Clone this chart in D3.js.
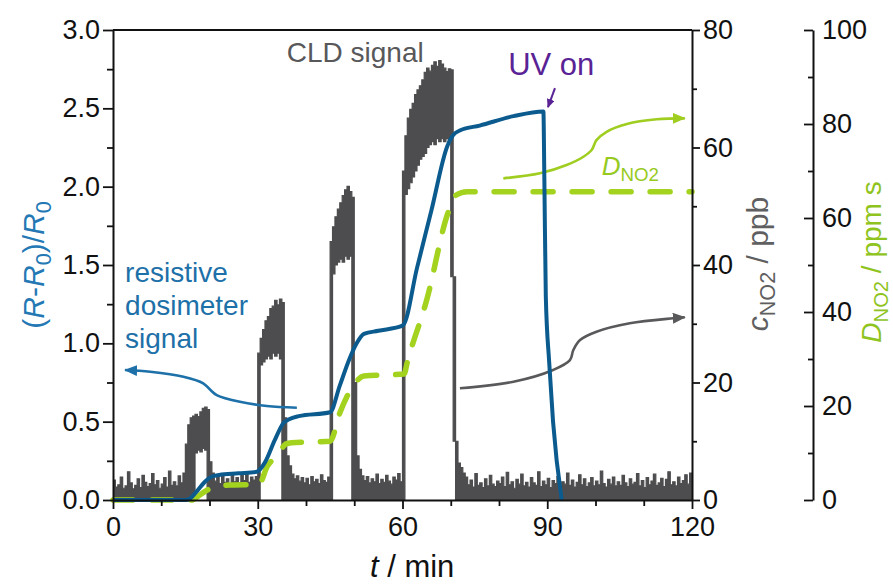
<!DOCTYPE html>
<meta charset="utf-8">
<head>
    <title>NO2 dosimeter vs CLD</title>
</head>
<style>
    body { margin: 0; background: #fff; }
    svg text { font-family: "Liberation Sans", Arial, sans-serif; }
</style>
<body>
<div id="chart"></div>
<script src="https://d3js.org/d3.v7.min.js"></script>
<script>

// CLD signal, ppb, one sample every cldStep minutes (t = 0 ... 120)
// noisy trace drawn as band between cldLow and cldHigh
var cldStep = 0.5;
var cldHigh = [
    3.4, 2.2, 2.6, 3.9, 2.0, 2.4, 4.8, 2.9, 1.9, 2.5, 3.6, 2.1, 4.2, 3.0, 2.3, 2.8, 4.5, 2.6, 3.3, 2.0,
    2.7, 3.8, 2.2, 4.9, 2.5, 3.1, 2.4, 4.1, 2.9, 4.6, 9.5, 12.8, 14.0, 14.3, 14.6, 14.2, 15.0, 15.6, 15.8, 15.4,
    6.5, 4.6, 3.2, 3.9, 2.8, 4.3, 3.0, 3.6, 2.7, 4.5, 3.1, 3.8, 2.9, 4.2, 3.3, 4.6, 3.0, 3.9, 3.4, 4.0,
    25.0, 27.5, 29.0, 30.5, 31.2, 32.6, 33.0, 34.0, 33.2, 34.2, 33.6, 14.0, 7.5, 5.8, 4.4, 3.6, 4.1, 3.2, 3.8, 2.9,
    3.7, 2.6, 4.0, 3.1, 3.5, 2.8, 4.3, 3.3, 3.0, 3.9, 44.0, 46.5, 48.2, 49.5, 50.6, 51.8, 52.8, 53.4, 52.5, 51.5,
    20.0, 7.5, 5.2, 4.1, 3.3, 4.0, 2.9, 3.6, 3.1, 4.4, 2.8, 3.5, 3.0, 4.2, 3.2, 2.7, 3.9, 3.4, 4.5, 3.1,
    56.0, 62.0, 65.0, 66.5, 67.5, 69.0, 69.8, 70.5, 71.5, 72.8, 73.5, 73.0, 74.0, 74.6, 73.8, 74.8, 74.2, 73.5, 72.9, 73.4,
    73.2, 38.0, 10.0, 6.3, 5.5, 4.6, 3.9, 2.6, 3.4, 2.2, 4.5, 2.5, 2.9, 2.1, 3.6, 2.4, 4.2, 2.7, 2.3, 3.2,
    2.8, 3.9, 2.3, 4.7, 2.6, 3.1, 2.0, 3.5, 2.7, 4.4, 2.4, 3.0, 2.2, 3.8, 2.9, 2.5, 4.8, 2.3, 3.2, 2.6,
    3.7, 2.1, 3.3, 2.8, 4.0, 2.4, 3.1, 2.7, 4.6, 2.5, 3.4, 2.2, 3.0, 4.3, 2.6, 3.6, 2.3, 2.9, 3.8, 2.4,
    3.2, 2.6, 4.9, 2.8, 2.2, 3.5, 2.7, 3.9, 2.4, 3.1, 2.5, 4.2, 2.9, 2.3, 3.6, 2.7, 3.0, 4.5, 2.4, 3.3,
    2.1, 3.8, 2.6, 3.2, 4.4, 2.5, 2.9, 3.7, 2.3, 3.5, 4.8, 2.6, 3.1, 2.4, 3.9, 2.8, 3.3, 4.3, 2.7, 4.6,
    3.5
];
var cldLow = [
    0, 0, 0, 0, 0, 0, 0, 0, 0, 0, 0, 0, 0, 0, 0, 0, 0, 0, 0, 0,
    0, 0, 0, 0, 0, 0, 0, 0, 0, 0, 0, 0, 0, 0, 8.0, 8.5, 8.2, 8.8, 8.5, 0,
    0, 0, 0, 0, 0, 0, 0, 0, 0, 0, 0, 0, 0, 0, 0, 0, 0, 0, 0, 0,
    0, 23.0, 23.5, 24.0, 24.5, 24.0, 25.0, 24.5, 25.0, 24.0, 0, 0, 0, 0, 0, 0, 0, 0, 0, 0,
    0, 0, 0, 0, 0, 0, 0, 0, 0, 0, 0, 38.5, 40.0, 40.5, 41.0, 40.5, 41.5, 41.0, 41.5, 0,
    0, 0, 0, 0, 0, 0, 0, 0, 0, 0, 0, 0, 0, 0, 0, 0, 0, 0, 0, 0,
    0, 52.0, 53.0, 54.0, 55.0, 56.0, 57.0, 58.0, 58.5, 59.0, 60.0, 60.5, 61.0, 60.5, 61.5, 61.0, 61.5, 61.0, 61.5, 61.0,
    38.0, 10.0, 0, 0, 0, 0, 0, 0, 0, 0, 0, 0, 0, 0, 0, 0, 0, 0, 0, 0,
    0, 0, 0, 0, 0, 0, 0, 0, 0, 0, 0, 0, 0, 0, 0, 0, 0, 0, 0, 0,
    0, 0, 0, 0, 0, 0, 0, 0, 0, 0, 0, 0, 0, 0, 0, 0, 0, 0, 0, 0,
    0, 0, 0, 0, 0, 0, 0, 0, 0, 0, 0, 0, 0, 0, 0, 0, 0, 0, 0, 0,
    0, 0, 0, 0, 0, 0, 0, 0, 0, 0, 0, 0, 0, 0, 0, 0, 0, 0, 0, 0,
    0
];

// resistive dosimeter signal (R-R0)/R0
var resTime  = [0, 15, 16, 17.5, 19, 20.5, 22, 26, 29.8, 31.5, 33.5, 35.3, 36.5, 38.5, 45, 47, 49, 50.5, 52, 55,
                60.1, 63, 66, 69.3, 70.5, 72, 76, 83, 89.2, 89.4, 89.7, 90.4, 91.2, 93.0];
var resValue = [0, 0, 0.01, 0.06, 0.115, 0.15, 0.16, 0.17, 0.18, 0.24, 0.38, 0.49, 0.515, 0.535, 0.56, 0.73, 0.9, 1.0, 1.06, 1.08,
                1.115, 1.48, 1.85, 2.26, 2.33, 2.36, 2.39, 2.45, 2.48, 2.05, 1.3, 0.88, 0.5, 0];

// NO2 dose D_NO2, ppm s
var doseTime  = [0, 16.5, 17.4, 19, 20.5, 22, 25, 30.2, 32, 34.3, 35.8, 37, 45, 47, 50.2, 52, 60.3, 61.1, 65, 69.4, 71, 73.4, 120];
var doseValue = [0, 0, 0.6, 1.8, 2.6, 3.1, 3.2, 3.3, 7.2, 9.8, 11.9, 12.2, 12.5, 18.5, 24.9, 26.4, 26.8, 29.8, 42.5, 61, 64.8, 65.6, 65.6];

var tTicks = [0, 30, 60, 90, 120];
var tMinor = [10, 20, 40, 50, 70, 80, 100, 110];
var rTicks = [0, 0.5, 1.0, 1.5, 2.0, 2.5, 3.0];
var rMinor = [0.25, 0.75, 1.25, 1.75, 2.25, 2.75];
var cTicks = [0, 20, 40, 60, 80];
var cMinor = [10, 30, 50, 70];
var dTicks = [0, 20, 40, 60, 80, 100];
var dMinor = [10, 30, 50, 70, 90];

// annotation arrows, in (t, (R-R0)/R0) units, tail first
var arrowRes = [[38.1, 0.589], [31.9, 0.600], [26.3, 0.627], [21.5, 0.670], [20.1, 0.705], [18.7, 0.745], [14.6, 0.787], [7.7, 0.819], [2.5, 0.830]];
var arrowCld = [[71.9, 0.713], [83.0, 0.755], [91.2, 0.830], [94.7, 0.893], [95.4, 0.957], [96.8, 1.021], [100.2, 1.074], [107.1, 1.128], [116.1, 1.160], [118.5, 1.166]];
var arrowDose = [[80.9, 2.053], [88.5, 2.085], [94.0, 2.138], [97.5, 2.191], [99.2, 2.234], [100.2, 2.297], [102.3, 2.350], [106.5, 2.400], [112.7, 2.430], [118.5, 2.436]];
var arrowUV = [[91.6, 2.629], [90.15, 2.508]];

var blue = "#0c5b8f", blueText = "#1d70a8", gray = "#4d4d4f", green = "#a3d21f", purple = "#5a2395";

var margin = {top: 30, right: 201, bottom: 85, left: 113},
    width = 893 - margin.left - margin.right,
    height = 585 - margin.top - margin.bottom;

var svg = d3.select("#chart")
  .append("svg")
    .attr("width", 893)
    .attr("height", 585)
    .style("background", "#fff");

var g = svg.append("g")
    .attr("transform", "translate(" + margin.left + "," + margin.top + ")");

var x  = d3.scaleLinear().domain([0, 120]).range([0, width]);
var yL = d3.scaleLinear().domain([0, 3]).range([height, 0]);
var yC = d3.scaleLinear().domain([0, 80]).range([height, 0]);
var yD = d3.scaleLinear().domain([0, 100]).range([height, 0]);

var defs = svg.append("defs");
defs.append("clipPath").attr("id", "plot")
  .append("rect").attr("width", width).attr("height", height);

function head(id, color, len, wid) {
    defs.append("marker")
        .attr("id", id)
        .attr("viewBox", "0 " + (-wid / 2) + " " + len + " " + wid)
        .attr("refX", len - 1)
        .attr("refY", 0)
        .attr("markerWidth", len)
        .attr("markerHeight", wid)
        .attr("markerUnits", "userSpaceOnUse")
        .attr("orient", "auto")
      .append("path")
        .attr("d", "M0," + (-wid / 2) + "L" + len + ",0L0," + (wid / 2) + "Z")
        .attr("fill", color);
}
head("h-blue", blueText, 13, 11);
head("h-gray", "#59595b", 13, 11);
head("h-green", "#9fcd20", 13, 11);
head("h-purple", purple, 9, 8);

// CLD signal
var cld = cldHigh.map(function(h, i) { return {t: i * cldStep, hi: h, lo: cldLow[i]}; });
g.append("g").attr("clip-path", "url(#plot)")
  .append("path")
    .datum(cld)
    .attr("fill", gray)
    .attr("stroke", gray)
    .attr("stroke-width", 1.2)
    .attr("d", d3.area()
        .curve(d3.curveStepAfter)
        .x(function(d) { return x(d.t); })
        .y0(function(d) { return yC(d.lo); })
        .y1(function(d) { return yC(d.hi); }));

// annotation arrows
var arrowLine = d3.line()
    .curve(d3.curveCatmullRom)
    .x(function(d) { return x(d[0]); })
    .y(function(d) { return yL(d[1]); });

function arrow(pts, color, mark, w) {
    g.append("path")
        .datum(pts)
        .attr("fill", "none")
        .attr("stroke", color)
        .attr("stroke-width", w)
        .attr("marker-end", "url(#" + mark + ")")
        .attr("d", arrowLine);
}
arrow(arrowRes, blueText, "h-blue", 2.6);
arrow(arrowCld, "#59595b", "h-gray", 2.6);
arrow(arrowDose, "#9fcd20", "h-green", 2.6);
arrow(arrowUV, purple, "h-purple", 2);

// dose, dashed
g.append("path")
    .datum(doseTime.map(function(t, i) { return [t, doseValue[i]]; }))
    .attr("fill", "none")
    .attr("stroke", green)
    .attr("stroke-width", 5.5)
    .attr("stroke-dasharray", "20,19")
    .attr("stroke-linecap", "round")
    .attr("d", d3.line()
        .curve(d3.curveMonotoneX)
        .x(function(d) { return x(d[0]); })
        .y(function(d) { return yD(d[1]); }));

// resistive signal
g.append("path")
    .datum(resTime.map(function(t, i) { return [t, resValue[i]]; }))
    .attr("fill", "none")
    .attr("stroke", blue)
    .attr("stroke-width", 4)
    .attr("stroke-linejoin", "round")
    .attr("d", d3.line()
        .curve(d3.curveMonotoneX)
        .x(function(d) { return x(d[0]); })
        .y(function(d) { return yL(d[1]); }));

// axes
function styleAxis(sel, showDomain) {
    sel.selectAll(".domain").attr("stroke", "#111").attr("stroke-width", 2);
    if (!showDomain) sel.select(".domain").remove();
    sel.selectAll(".tick line").attr("stroke", "#111").attr("stroke-width", 1.8);
    sel.selectAll("text").attr("font-size", 27).attr("fill", "#111")
        .attr("font-family", "Liberation Sans, Arial, sans-serif");
}

g.append("g").call(d3.axisLeft(yL).tickValues(rMinor).tickSize(6).tickFormat(""))
    .call(styleAxis, false);
g.append("g").call(d3.axisLeft(yL).tickValues(rTicks).tickSize(10).tickSizeOuter(0)
        .tickPadding(3).tickFormat(d3.format(".1f")))
    .call(styleAxis, true);

g.append("g").attr("transform", "translate(0," + height + ")")
    .call(d3.axisBottom(x).tickValues(tMinor).tickSize(6).tickFormat(""))
    .call(styleAxis, false);
g.append("g").attr("transform", "translate(0," + height + ")")
    .call(d3.axisBottom(x).tickValues(tTicks).tickSize(9).tickSizeOuter(0).tickPadding(8))
    .call(styleAxis, true);

g.append("g").attr("transform", "translate(" + width + ",0)")
    .call(d3.axisRight(yC).tickValues(cMinor).tickSize(5).tickFormat(""))
    .call(styleAxis, false);
g.append("g").attr("transform", "translate(" + width + ",0)")
    .call(d3.axisRight(yC).tickValues(cTicks).tickSize(8).tickSizeOuter(0).tickPadding(3))
    .call(styleAxis, true);

g.append("line")
    .attr("x1", 0).attr("x2", width).attr("y1", 0).attr("y2", 0)
    .attr("stroke", "#111").attr("stroke-width", 2);

// separate dose axis
var dAxis = g.append("g").attr("transform", "translate(" + (width + 121) + ",0)");
dAxis.append("g").call(d3.axisLeft(yD).tickValues(dMinor).tickSize(5).tickFormat(""))
    .call(styleAxis, false);
dAxis.append("g").call(d3.axisLeft(yD).tickValues(dTicks).tickSize(9).tickSizeOuter(0).tickFormat(""))
    .call(styleAxis, true);
dAxis.append("g").call(d3.axisRight(yD).tickValues(dTicks).tickSize(0).tickPadding(9))
    .call(styleAxis, false);

// text with italics and subscripts
function rich(parent, parts, size, color) {
    var t = parent.append("text").attr("font-size", size).attr("fill", color);
    var shift = 0;
    parts.forEach(function(p) {
        var s = t.append("tspan").text(p.t);
        if (p.i) s.attr("font-style", "italic");
        if (p.sub) {
            s.attr("font-size", size * 0.72).attr("dy", size * 0.24 - shift);
            shift = size * 0.24;
        } else if (shift) {
            s.attr("dy", -shift);
            shift = 0;
        }
    });
    return t;
}

rich(svg, [{t: "("}, {t: "R", i: 1}, {t: "-"}, {t: "R", i: 1}, {t: "0", sub: 1}, {t: ")/"}, {t: "R", i: 1}, {t: "0", sub: 1}], 30, "#2479b5")
    .attr("transform", "translate(33,265) rotate(-90)")
    .attr("text-anchor", "middle").attr("dy", "0.35em");

rich(svg, [{t: "c", i: 1}, {t: "NO2", sub: 1}, {t: " / ppb"}], 30, "#5f5f61")
    .attr("transform", "translate(757,264) rotate(-90)")
    .attr("text-anchor", "middle").attr("dy", "0.35em");

rich(svg, [{t: "D", i: 1}, {t: "NO2", sub: 1}, {t: " / ppm s"}], 28, "#8fc41f")
    .attr("transform", "translate(871,262) rotate(-90)")
    .attr("text-anchor", "middle").attr("dy", "0.35em");

rich(svg, [{t: "t", i: 1}, {t: " / min"}], 31, "#111")
    .attr("x", margin.left + x(62)).attr("y", 577)
    .attr("text-anchor", "middle");

// labels inside the plot
g.append("text").text("CLD signal")
    .attr("x", x(50.2)).attr("y", yL(2.795))
    .attr("text-anchor", "middle")
    .attr("font-size", 28).attr("fill", "#58585a");

g.append("text").text("UV on")
    .attr("x", x(81.9)).attr("y", yL(2.713))
    .attr("font-size", 31).attr("fill", purple);

[["resistive", 1.391], ["dosimeter", 1.181], ["signal", 0.970]].forEach(function(r) {
    g.append("text").text(r[0])
        .attr("x", x(2.5)).attr("y", yL(r[1]))
        .attr("font-size", 28).attr("fill", blueText);
});

rich(g, [{t: "D", i: 1}, {t: "NO2", sub: 1}], 26, "#97ca1f")
    .attr("x", x(101.3)).attr("y", yL(2.074));

</script>
</body>
